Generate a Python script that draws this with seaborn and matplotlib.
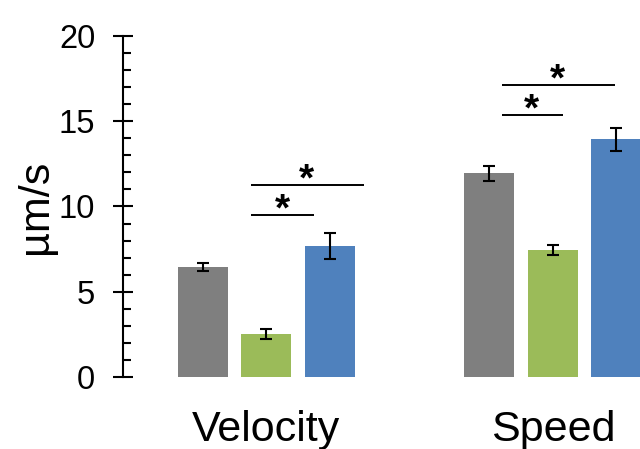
import numpy as np
import matplotlib
matplotlib.use('Agg')
import matplotlib.pyplot as plt
from matplotlib.ticker import MultipleLocator
import pandas as pd
import seaborn as sns

sns.set_style("white")
plt.rcParams['font.family'] = ['Liberation Sans', 'DejaVu Sans']
plt.rcParams['text.color'] = 'black'
plt.rcParams['axes.labelcolor'] = 'black'
plt.rcParams['xtick.color'] = 'black'
plt.rcParams['ytick.color'] = 'black'

# values
categories = ['Velocity', 'Speed']
groups = ['Grey', 'Green', 'Blue']
means = {
    'Grey': [6.45, 11.95],
    'Green': [2.52, 7.45],
    'Blue': [7.68, 13.94],
}
errors = {
    'Grey': [0.22, 0.45],
    'Green': [0.28, 0.27],
    'Blue': [0.74, 0.68],
}
colors = ['#7f7f7f', '#9bbb59', '#4f81bd']

# significance brackets: (x start, x end, y, star x)
sig_lines = [
    (-0.054, 0.166, 9.5, 0.056),
    (-0.054, 0.340, 11.28, 0.142),
    (0.821, 1.034, 15.37, 0.926),
    (0.821, 1.216, 17.14, 1.015),
]

rows = []
for g in groups:
    for c, v in zip(categories, means[g]):
        rows.append({'category': c, 'group': g, 'value': v})
df = pd.DataFrame(rows)

fig = plt.figure(figsize=(6.4, 4.49), dpi=100)
ax = fig.add_axes([0.192, 0.1604, 0.808, 0.7594])

sns.barplot(data=df, x='category', y='value', hue='group', order=categories,
            hue_order=groups, palette=colors, saturation=1, width=0.665,
            gap=0.21, errorbar=None, legend=False, linewidth=0, ax=ax)

for g, cont in zip(groups, ax.containers):
    xs = [b.get_x() + b.get_width() / 2 for b in cont]
    ax.errorbar(xs, means[g], yerr=errors[g], fmt='none', ecolor='black',
                elinewidth=1.5, capsize=4.3, capthick=1.5)

for x0, x1, y, sx in sig_lines:
    ax.plot([x0, x1], [y, y], color='black', lw=1.4, solid_capstyle='butt')
    ax.text(sx, y - 0.33, '*', ha='center', va='baseline', fontsize=28,
            fontweight='bold')

ax.set_xlim(-0.5, 1.3037)
ax.set_ylim(0, 20)
ax.yaxis.set_major_locator(MultipleLocator(5))
ax.yaxis.set_minor_locator(MultipleLocator(1))

for s in ['top', 'right', 'bottom']:
    ax.spines[s].set_visible(False)
ax.spines['left'].set_linewidth(1.5)
ax.spines['left'].set_color('black')

ax.tick_params(axis='y', which='major', direction='inout', length=13.7,
               width=1.5, labelsize=23.5, pad=13, left=True)
ax.tick_params(axis='y', which='minor', direction='in', length=5.5,
               width=1.5, left=True)
ax.tick_params(axis='x', length=0, labelsize=31, pad=24)

ax.set_xlabel('')
ax.set_ylabel('µm/s', fontsize=31, labelpad=2)

fig.savefig('out.png', dpi=100)
